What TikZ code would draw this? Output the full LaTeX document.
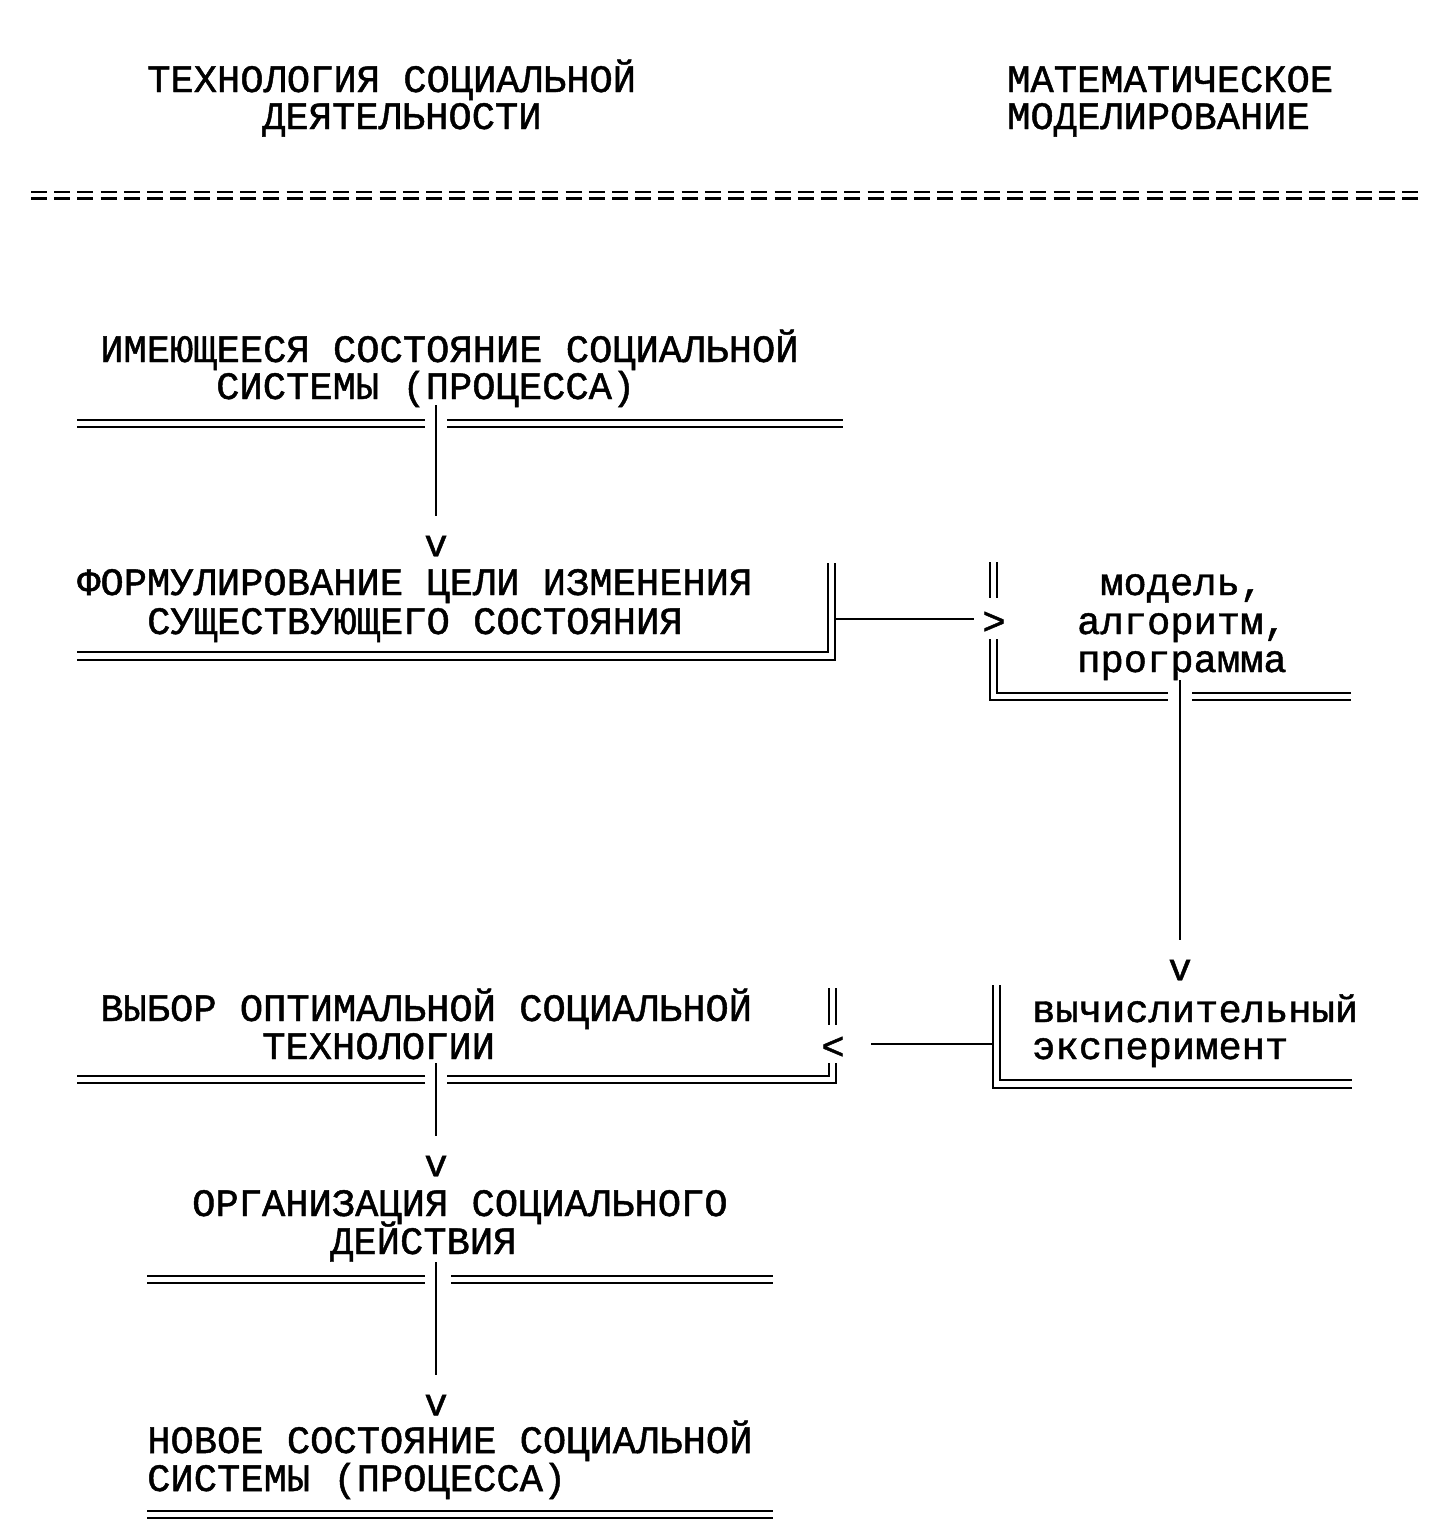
\documentclass[tikz,border=0pt]{standalone}
\usepackage{fontspec}
\newfontfamily\tw[FakeBold=1.2]{Liberation Mono}
\begin{document}
\begin{tikzpicture}[x=1pt,y=-1pt,
  txt/.style={anchor=base west, inner sep=0pt, font=\tw\fontsize{38.8}{37}\selectfont},
  tip/.style={anchor=center, inner sep=0pt, font=\tw\fontsize{38.8}{37}\selectfont},
  rule/.style={line width=2pt},
  conn/.style={line width=2pt}]
\useasboundingbox[fill=white] (0,0) rectangle (1446,1531);

% headers
\node[txt] (h1a) at (147,92) {ТЕХНОЛОГИЯ СОЦИАЛЬНОЙ};
\node[txt] (h1b) at (262,129) {ДЕЯТЕЛЬНОСТИ};
\node[txt] (h2a) at (1007,92) {МАТЕМАТИЧЕСКОЕ};
\node[txt] (h2b) at (1007,129) {МОДЕЛИРОВАНИЕ};

% separator
\foreach \i in {0,...,59} {
  \draw[line width=2.2pt] ({31+\i*23.24},192) -- ++(16,0)
                          ({31+\i*23.24},198.5) -- ++(16,0);
}

% box 1
\node[txt] (b1a) at (100,362) {ИМЕЮЩЕЕСЯ СОСТОЯНИЕ СОЦИАЛЬНОЙ};
\node[txt] (b1b) at (216,399) {СИСТЕМЫ (ПРОЦЕССА)};
\draw[rule] (77,420) -- (425,420) (77,427) -- (425,427)
            (447,420) -- (843,420) (447,427) -- (843,427);
\coordinate (c1) at (436,405);
\node[tip] (v1) at (436,546) {v};
\draw[conn] (c1) -- ([yshift=20pt]v1.north);

% box 2
\node[txt] (b2a) at (77,595) {ФОРМУЛИРОВАНИЕ ЦЕЛИ ИЗМЕНЕНИЯ};
\node[txt] (b2b) at (147,634) {СУЩЕСТВУЮЩЕГО СОСТОЯНИЯ};
\draw[rule] (828,563) -- (828,652) -- (77,652);
\draw[rule] (835,563) -- (835,660) -- (77,660);
\coordinate (c2) at (835,619);
\node[tip] (gt) at (994,623) {>};
\draw[conn] (c2) -- ([xshift=-8pt]gt.west |- c2);

% right box 1
\node[txt] (m1) at (1100,595) {модель,};
\node[txt] (m2) at (1077,634) {алгоритм,};
\node[txt] (m3) at (1077,672) {программа};
\draw[rule] (990,562) -- (990,598) (997,562) -- (997,598);
\draw[rule] (997,639) -- (997,693) -- (1168,693)
            (990,639) -- (990,700) -- (1168,700);
\draw[rule] (1192,693) -- (1351,693) (1192,700) -- (1351,700);
\coordinate (c3) at (1180,680);
\node[tip] (v2) at (1180,970) {v};
\draw[conn] (c3) -- ([yshift=20pt]v2.north -| c3);

% right box 2
\node[txt] (e1) at (1032,1022) {вычислительный};
\node[txt] (e2) at (1032,1059) {эксперимент};
\draw[rule] (993,985) -- (993,1088) -- (1352,1088);
\draw[rule] (1000,985) -- (1000,1080) -- (1352,1080);
\coordinate (c4) at (993,1044);
\node[tip] (lt) at (833,1048) {<};
\draw[conn] (c4) -- ([xshift=26pt]lt.east |- c4);

% box 3
\node[txt] (b3a) at (100,1021) {ВЫБОР ОПТИМАЛЬНОЙ СОЦИАЛЬНОЙ};
\node[txt] (b3b) at (262,1059) {ТЕХНОЛОГИИ};
\draw[rule] (829,988) -- (829,1025) (836,988) -- (836,1025);
\draw[rule] (829,1063) -- (829,1076) -- (447,1076) (425,1076) -- (77,1076);
\draw[rule] (836,1063) -- (836,1083) -- (447,1083) (425,1083) -- (77,1083);
\coordinate (c5) at (436,1063);
\node[tip] (v3) at (436,1166) {v};
\draw[conn] (c5) -- ([yshift=20pt]v3.north);

% box 4
\node[txt] (b4a) at (192,1216) {ОРГАНИЗАЦИЯ СОЦИАЛЬНОГО};
\node[txt] (b4b) at (330,1254) {ДЕЙСТВИЯ};
\draw[rule] (147,1276) -- (425,1276) (147,1283) -- (425,1283)
            (451,1276) -- (773,1276) (451,1283) -- (773,1283);
\coordinate (c6) at (436,1262);
\node[tip] (v4) at (436,1405) {v};
\draw[conn] (c6) -- ([yshift=20pt]v4.north);

% box 5
\node[txt] (b5a) at (147,1453) {НОВОЕ СОСТОЯНИЕ СОЦИАЛЬНОЙ};
\node[txt] (b5b) at (147,1491) {СИСТЕМЫ (ПРОЦЕССА)};
\draw[rule] (147,1511) -- (773,1511) (147,1518) -- (773,1518);
\end{tikzpicture}
\end{document}
